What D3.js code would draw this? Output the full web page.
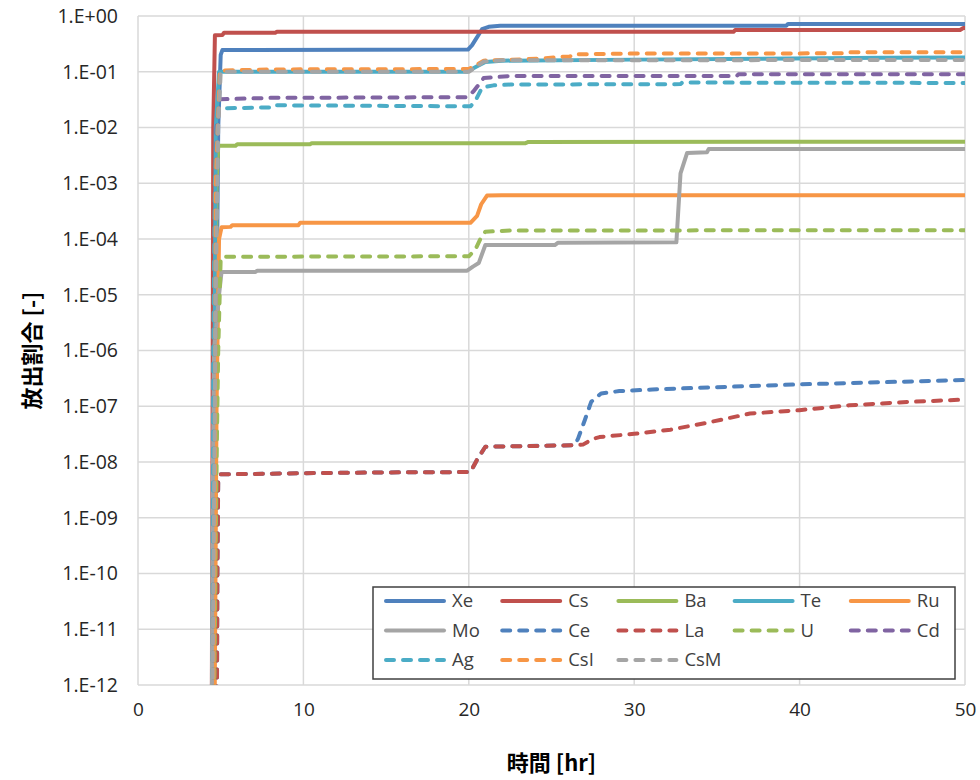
<!DOCTYPE html>
<html>
<head>
<meta charset="utf-8">
<script src="https://cdn.jsdelivr.net/npm/d3@7"></script>
<style>
  body { margin: 0; background: #fff; }
  svg { display: block; }
</style>
</head>
<body>
<div id="chart"></div>
<script>
// release fraction vs time, [hr, fraction]
const Xe = [[4.5, 1e-14], [4.85, 1e-2], [5.0, 0.2], [5.1, 0.245], [19.95, 0.25], [20.2, 0.3], [20.8, 0.58], [21.2, 0.64], [21.9, 0.67], [39.2, 0.67], [39.3, 0.72], [50, 0.72]];
const Cs = [[4.45, 1e-14], [4.55, 1e-2], [4.65, 0.45], [5.1, 0.455], [5.2, 0.5], [8.3, 0.5], [8.4, 0.52], [36.0, 0.52], [36.1, 0.56], [49.7, 0.56], [49.9, 0.61], [50, 0.61]];
const Ba = [[4.5, 1e-14], [4.75, 1e-3], [4.85, 4.7e-3], [5.9, 4.7e-3], [6.0, 5.0e-3], [10.4, 5.0e-3], [10.5, 5.2e-3], [23.4, 5.2e-3], [23.6, 5.5e-3], [50, 5.55e-3]];
const Te = [[4.5, 1e-14], [4.7, 1e-2], [4.9, 0.1], [19.9, 0.1], [20.5, 0.125], [21.0, 0.15], [22, 0.158], [30, 0.165], [45, 0.178], [50, 0.18]];
const Ru = [[4.6, 1e-14], [4.75, 1e-7], [4.9, 1e-4], [5.05, 1.62e-4], [5.6, 1.65e-4], [5.7, 1.77e-4], [9.7, 1.77e-4], [9.8, 1.95e-4], [20.1, 1.95e-4], [20.5, 2.6e-4], [20.75, 4.2e-4], [21.1, 6.0e-4], [22, 6.1e-4], [50, 6.1e-4]];
const Mo = [[4.45, 1e-14], [4.5, 1e-9], [4.6, 1e-6], [4.9, 1e-5], [5.05, 2.55e-5], [7.1, 2.55e-5], [7.2, 2.7e-5], [19.9, 2.7e-5], [20.25, 3.2e-5], [20.6, 3.7e-5], [21.0, 7.8e-5], [25.2, 7.8e-5], [25.4, 8.6e-5], [32.55, 8.7e-5], [32.8, 1.5e-3], [33.2, 3.5e-3], [34.4, 3.6e-3], [34.5, 4.1e-3], [50, 4.1e-3]];
const Ce = [[4.75, 1e-14], [4.8, 1e-10], [4.85, 5.0e-9], [5.0, 6.0e-9], [10, 6.3e-9], [15, 6.5e-9], [20.1, 6.6e-9], [20.5, 1.1e-8], [21.0, 1.88e-8], [23, 1.92e-8], [26.4, 2.0e-8], [26.6, 2.6e-8], [27.0, 5.5e-8], [27.4, 1.2e-7], [28.0, 1.7e-7], [29.1, 1.87e-7], [31.1, 2.0e-7], [35, 2.2e-7], [40, 2.47e-7], [45, 2.7e-7], [50, 2.95e-7]];
const La = [[4.75, 1e-14], [4.8, 1e-10], [4.85, 5.0e-9], [5.0, 6.0e-9], [10, 6.3e-9], [15, 6.5e-9], [20.1, 6.6e-9], [20.5, 1.1e-8], [21.0, 1.88e-8], [23, 1.92e-8], [26.5, 2.0e-8], [26.9, 2.05e-8], [27.5, 2.6e-8], [27.9, 2.8e-8], [30.0, 3.2e-8], [32.2, 3.8e-8], [34.6, 5.2e-8], [37, 7.4e-8], [40, 8.5e-8], [43, 1.04e-7], [46.7, 1.2e-7], [50, 1.32e-7]];
const U = [[4.55, 1e-14], [4.75, 1e-8], [4.85, 1e-6], [5.0, 4.5e-5], [5.2, 4.8e-5], [20.0, 4.9e-5], [20.4, 6.5e-5], [20.7, 1.0e-4], [21.0, 1.35e-4], [22.5, 1.42e-4], [50, 1.44e-4]];
const Cd = [[4.5, 1e-14], [4.75, 1e-2], [4.95, 0.032], [8, 0.034], [19.9, 0.035], [20.3, 0.045], [20.9, 0.077], [22.5, 0.084], [36.2, 0.084], [36.3, 0.09], [50, 0.09]];
const Ag = [[4.5, 1e-14], [4.55, 1e-6], [4.65, 1e-3], [4.85, 0.022], [8.2, 0.023], [8.3, 0.025], [20.1, 0.024], [20.4, 0.03], [20.8, 0.052], [21.5, 0.057], [22.5, 0.059], [32.8, 0.06], [32.9, 0.064], [50, 0.063]];
const CsI = [[4.5, 1e-14], [4.65, 1e-9], [4.7, 1e-3], [4.95, 0.105], [8, 0.11], [20.0, 0.112], [20.5, 0.135], [20.9, 0.158], [24.5, 0.172], [25.5, 0.186], [26.1, 0.186], [26.3, 0.205], [30, 0.212], [42.6, 0.214], [42.7, 0.223], [50, 0.223]];
const CsM = [[4.45, 1e-14], [4.7, 1e-5], [4.85, 1e-2], [5.0, 0.1], [20.0, 0.1], [20.5, 0.125], [20.9, 0.152], [22, 0.16], [50, 0.163]];

const seriesNames = ["Xe", "Cs", "Ba", "Te", "Ru", "Mo", "Ce", "La", "U", "Cd", "Ag", "CsI", "CsM"];
const seriesData = [Xe, Cs, Ba, Te, Ru, Mo, Ce, La, U, Cd, Ag, CsI, CsM];
const seriesColors = ["#4F81BD", "#C0504D", "#9BBB59", "#4BACC6", "#F79646", "#A5A5A5",
                      "#4F81BD", "#C0504D", "#9BBB59", "#8064A2", "#4BACC6", "#F79646", "#A5A5A5"];
const seriesDashed = [false, false, false, false, false, false, true, true, true, true, true, true, true];

const xTicks = [0, 10, 20, 30, 40, 50];
const yTicks = d3.range(0, -13, -1).map(e => Math.pow(10, e));

const W = 980, H = 780;
const plot = { left: 138, top: 16, right: 965, bottom: 685 };
const FONT = "'Open Sans', 'Noto Sans', sans-serif";

const svg = d3.select("#chart").append("svg")
  .attr("width", W)
  .attr("height", H);

const x = d3.scaleLinear().domain([0, 50]).range([plot.left, plot.right]);
const y = d3.scaleLog().domain([1e-12, 1]).range([plot.bottom, plot.top]);

// grid
svg.append("g").selectAll("line.h")
  .data(yTicks)
  .join("line")
  .attr("x1", plot.left).attr("x2", plot.right)
  .attr("y1", d => y(d)).attr("y2", d => y(d))
  .attr("stroke", "#d9d9d9").attr("stroke-width", 1.5);

svg.append("g").selectAll("line.v")
  .data(xTicks)
  .join("line")
  .attr("x1", d => x(d)).attr("x2", d => x(d))
  .attr("y1", plot.top).attr("y2", plot.bottom)
  .attr("stroke", "#d9d9d9").attr("stroke-width", 1.5);

// axes
const fmt = d => {
  const e = Math.round(Math.log10(d));
  const s = e < 0 ? "-" : "+";
  return "1.E" + s + String(Math.abs(e)).padStart(2, "0");
};

const yAxis = svg.append("g")
  .attr("transform", `translate(${plot.left},0)`)
  .call(d3.axisLeft(y).tickValues(yTicks).tickFormat(fmt).tickSize(0).tickPadding(20));
yAxis.select(".domain").remove();
yAxis.selectAll("text")
  .style("font-family", FONT).style("font-size", "19.5px").attr("fill", "#262626");

const xAxis = svg.append("g")
  .attr("transform", `translate(0,${plot.bottom})`)
  .call(d3.axisBottom(x).tickValues(xTicks).tickFormat(d3.format("d")).tickSize(0).tickPadding(18));
xAxis.select(".domain").remove();
xAxis.selectAll("text")
  .style("font-family", FONT).style("font-size", "19px").attr("fill", "#262626");

// titles
svg.append("text")
  .attr("x", (plot.left + plot.right) / 2)
  .attr("y", 771)
  .attr("text-anchor", "middle")
  .style("font-family", "'Noto Sans CJK JP', sans-serif")
  .style("font-size", "22px").style("font-weight", "bold")
  .text("時間 [hr]");

svg.append("text")
  .attr("transform", `translate(40,${(plot.top + plot.bottom) / 2}) rotate(-90)`)
  .attr("text-anchor", "middle")
  .style("font-family", "'Noto Sans CJK JP', sans-serif")
  .style("font-size", "22px").style("font-weight", "bold")
  .text("放出割合 [-]");

// lines
svg.append("clipPath").attr("id", "clip")
  .append("rect")
  .attr("x", plot.left).attr("y", plot.top - 3)
  .attr("width", plot.right - plot.left).attr("height", plot.bottom - plot.top + 3);

const line = d3.line()
  .x(d => x(d[0]))
  .y(d => y(Math.max(d[1], 1e-14)));

const gLines = svg.append("g").attr("clip-path", "url(#clip)");
seriesData.forEach((data, i) => {
  gLines.append("path")
    .attr("d", line(data))
    .attr("fill", "none")
    .attr("stroke", seriesColors[i])
    .attr("stroke-width", 4)
    .attr("stroke-linejoin", "round")
    .attr("stroke-linecap", seriesDashed[i] ? "round" : "butt")
    .attr("stroke-dasharray", seriesDashed[i] ? "8,9" : null);
});

// legend
const legend = svg.append("g");
legend.append("rect")
  .attr("x", 373).attr("y", 587)
  .attr("width", 582).attr("height", 92)
  .attr("fill", "#fff")
  .attr("stroke", "#404040").attr("stroke-width", 1.5);

seriesNames.forEach((name, i) => {
  const col = i % 5, row = Math.floor(i / 5);
  const lx = 386 + col * 116.2, ly = 601 + row * 29.5;
  const item = legend.append("g");
  item.append("line")
    .attr("x1", lx).attr("x2", lx + 58)
    .attr("y1", ly).attr("y2", ly)
    .attr("stroke", seriesColors[i])
    .attr("stroke-width", 4)
    .attr("stroke-linecap", "round")
    .attr("stroke-dasharray", seriesDashed[i] ? "8,9" : null);
  item.append("text")
    .attr("x", lx + 66).attr("y", ly)
    .attr("dy", "0.35em")
    .style("font-family", FONT).style("font-size", "18.5px")
    .attr("fill", "#404040")
    .text(name);
});
</script>
</body>
</html>
